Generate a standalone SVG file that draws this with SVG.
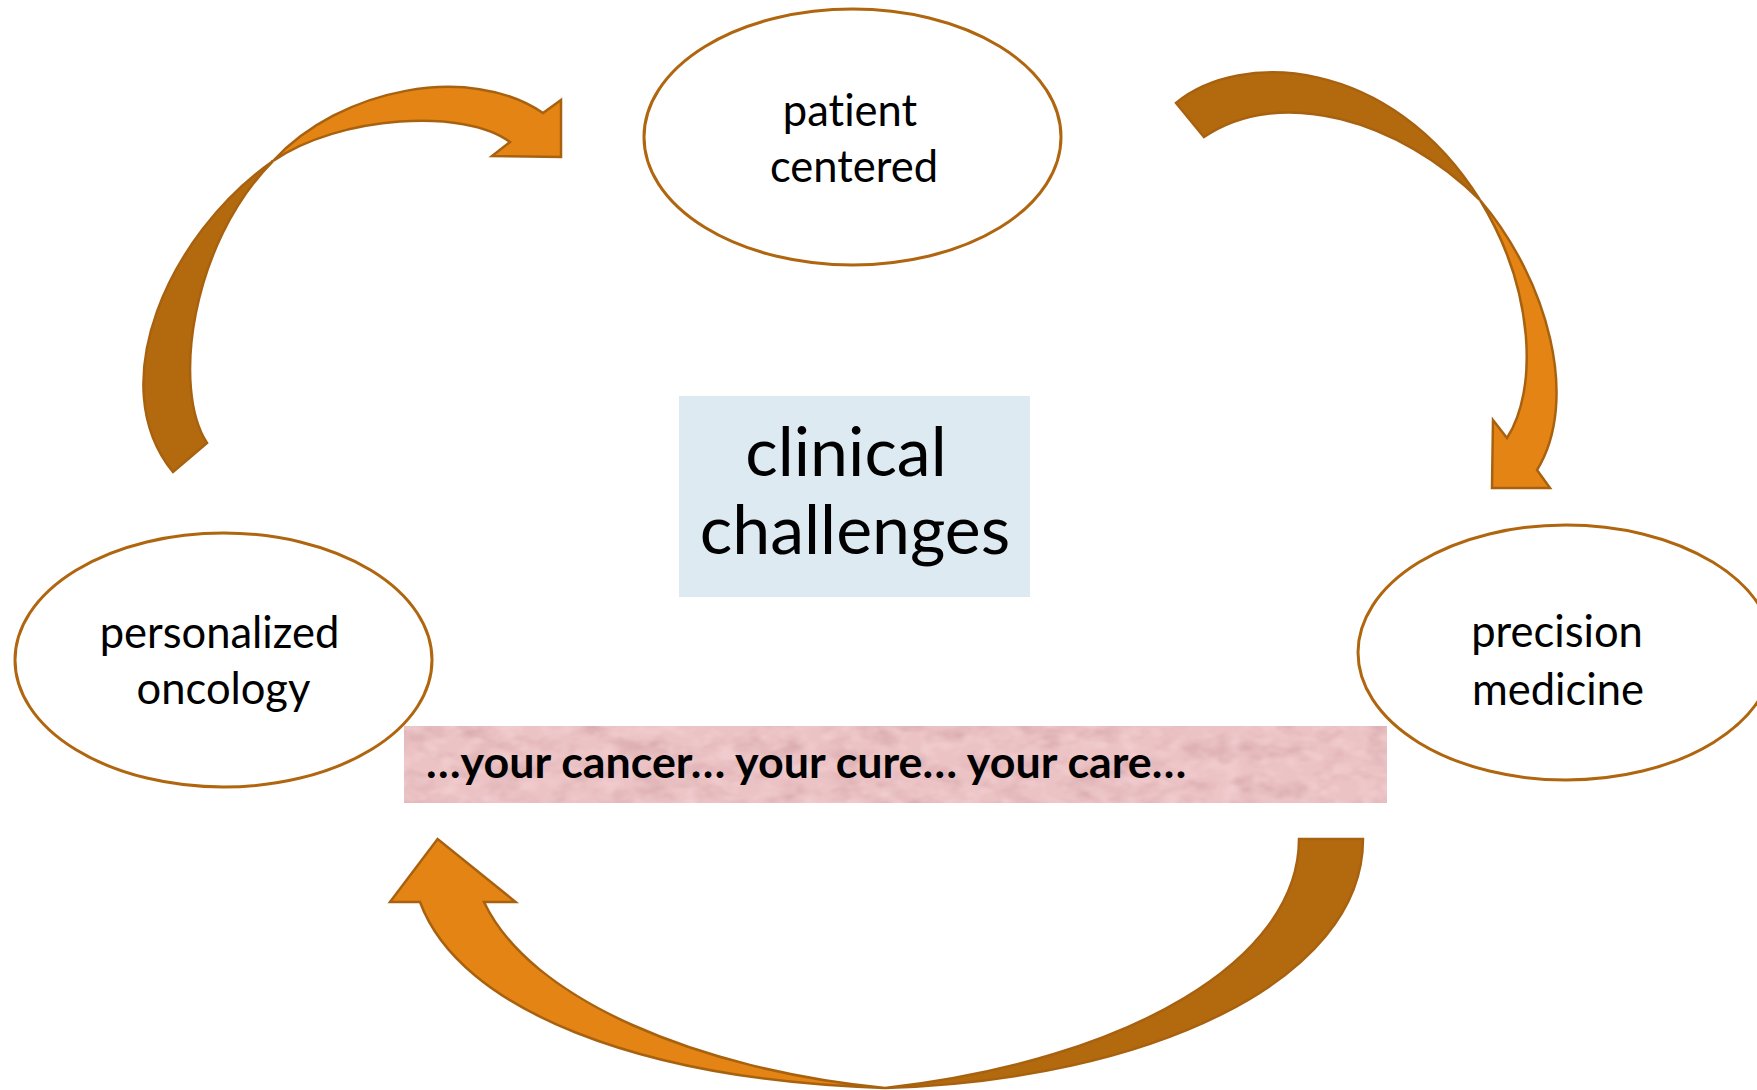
<svg xmlns="http://www.w3.org/2000/svg" width="1757" height="1090" viewBox="0 0 1757 1090">
  <defs>
    <style>
      .node-shape { fill: #ffffff; stroke: #b0650f; stroke-width: 3; }
      .label { font-family: Lato, "Open Sans", "Liberation Sans", sans-serif; fill: #000000; text-anchor: middle; font-variant-ligatures: none; }
      .node-label { font-size: 43.5px; }
      .center-label { font-size: 68px; }
      .motto { font-family: Lato, "Open Sans", "Liberation Sans", sans-serif; font-weight: bold; font-size: 44.8px; fill: #000000; font-variant-ligatures: none; }
      .arrow-front { fill: #e48414; stroke: #a8620f; stroke-width: 2.5; stroke-linejoin: miter; }
      .arrow-back { fill: #b36a0f; stroke: #a8620f; stroke-width: 2.5; stroke-linejoin: miter; }
    </style>
    <!-- mottled paper texture for the motto banner -->
    <filter id="paper" x="0" y="0" width="100%" height="100%" color-interpolation-filters="sRGB">
      <feTurbulence type="fractalNoise" baseFrequency="0.03 0.05" numOctaves="3" seed="11" result="noise"/>
      <feColorMatrix in="noise" type="matrix"
        values="0 0 0 0 0.78
                0 0 0 0 0.58
                0 0 0 0 0.60
                1.1 0 0 0 -0.48" result="dark"/>
      <feComposite in="dark" in2="SourceGraphic" operator="in" result="darkIn"/>
      <feTurbulence type="fractalNoise" baseFrequency="0.05 0.08" numOctaves="2" seed="29" result="noise2"/>
      <feColorMatrix in="noise2" type="matrix"
        values="0 0 0 0 0.97
                0 0 0 0 0.85
                0 0 0 0 0.86
                1.2 0 0 0 -0.52" result="light"/>
      <feComposite in="light" in2="SourceGraphic" operator="in" result="lightIn"/>
      <feMerge>
        <feMergeNode in="SourceGraphic"/>
        <feMergeNode in="darkIn"/>
        <feMergeNode in="lightIn"/>
      </feMerge>
    </filter>
  </defs>

  <rect x="0" y="0" width="1757" height="1090" fill="#ffffff"/>

  <!-- curved cycle arrows -->
  <g id="connectors">
    <!-- personalized oncology -> patient centered -->
    <g id="arrow-oncology-to-patient">
      <path class="arrow-back" d="M 273,161 C 168,235 102,385 173,472 L 207,443 C 172,390 190,245 273,161 Z"/>
      <path class="arrow-front" d="M 273,161 C 340,88 470,63 543,113 L 561,100 L 561,157 L 492,156 L 510,142 C 465,108 340,115 273,161 Z"/>
    </g>
    <!-- patient centered -> precision medicine -->
    <g id="arrow-patient-to-precision">
      <path class="arrow-back" d="M 1176,103 C 1240,50 1390,56 1480,200 C 1400,120 1280,85 1204,137 Z"/>
      <path class="arrow-front" d="M 1480,200 C 1548,280 1580,400 1537,470 L 1550,488 L 1492,488 L 1493,420 L 1507,438 C 1538,390 1535,290 1480,200 Z"/>
    </g>
    <!-- precision medicine -> personalized oncology -->
    <g id="arrow-precision-to-oncology">
      <path class="arrow-back" d="M 885,1088 C 1150,1080 1363,980 1363,839 L 1299,839 C 1299,960 1130,1060 885,1088 Z"/>
      <path class="arrow-front" d="M 885,1088 C 640,1080 460,1010 420,902 L 390,902 L 437.6,839 L 515.6,902 L 484,902 C 530,1000 700,1070 885,1088 Z"/>
    </g>
  </g>

  <g id="node-patient-centered">
    <ellipse class="node-shape" cx="852.5" cy="137" rx="208.5" ry="128"/>
    <text class="label node-label" x="850" y="126">patient</text>
    <text class="label node-label" x="854" y="182">centered</text>
  </g>

  <g id="node-personalized-oncology">
    <ellipse class="node-shape" cx="223.5" cy="660" rx="208.5" ry="127"/>
    <text class="label node-label" x="219.5" y="648">personalized</text>
    <text class="label node-label" x="223.5" y="704">oncology</text>
  </g>

  <g id="node-precision-medicine">
    <ellipse class="node-shape" cx="1566" cy="652.5" rx="208" ry="127.5"/>
    <text class="label node-label" x="1557" y="647">precision</text>
    <text class="label node-label" x="1558" y="705">medicine</text>
  </g>

  <g id="node-clinical-challenges">
    <rect x="679" y="396" width="351" height="201" fill="#deeaf2"/>
    <text class="label center-label" x="846" y="476">clinical</text>
    <text class="label center-label" x="855" y="554">challenges</text>
  </g>

  <g id="node-motto">
    <rect x="404" y="726" width="983" height="77" fill="#ecc3c5" filter="url(#paper)"/>
    <text class="motto" x="426" y="778">…your cancer… your cure… your care…</text>
  </g>
</svg>
